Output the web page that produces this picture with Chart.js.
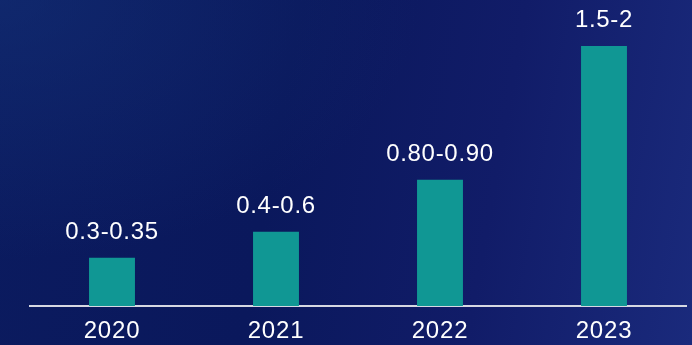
<!DOCTYPE html>
<html>
<head>
<meta charset="utf-8">
<script src="https://cdn.jsdelivr.net/npm/chart.js@4/dist/chart.umd.min.js"></script>
<style>
  html, body { margin: 0; padding: 0; }
  body {
    width: 692px; height: 345px; overflow: hidden;
    background:
      radial-gradient(ellipse 420px 260px at 0% 0%, rgba(20,50,120,0.55), rgba(20,50,120,0) 100%),
      linear-gradient(100deg, #0b1b5f 0%, #0a185c 40%, #111c68 70%, #1a2a7c 100%);
  }
  #wrap { position: relative; width: 692px; height: 345px; }
</style>
</head>
<body>
<div id="wrap"><canvas id="chart"></canvas></div>
<script>
// Years on the x axis
const years = ['2020', '2021', '2022', '2023'];
// Reported range for each year (shown above the bars)
const rangeLabels = ['0.3-0.35', '0.4-0.6', '0.80-0.90', '1.5-2'];
// Low and high ends of each range
const rangeLow = [0.3, 0.4, 0.80, 1.5];
const rangeHigh = [0.35, 0.6, 0.90, 2];
// Bar height = midpoint of the range
const midValues = rangeLow.map((lo, i) => (lo + rangeHigh[i]) / 2);

// Slightly open tracking for all text on the canvas
const trackingPlugin = {
  id: 'tracking',
  beforeDraw(chart) {
    chart.ctx.letterSpacing = '0.8px';
  }
};

// Writes the range text above every bar
const rangeLabelPlugin = {
  id: 'rangeLabels',
  afterDatasetsDraw(chart) {
    const { ctx } = chart;
    const meta = chart.getDatasetMeta(0);
    ctx.save();
    ctx.letterSpacing = '0.7px';
    ctx.fillStyle = '#ffffff';
    ctx.font = '24px "Liberation Sans", Arial, sans-serif';
    ctx.textAlign = 'center';
    ctx.textBaseline = 'alphabetic';
    meta.data.forEach((bar, i) => {
      ctx.fillText(rangeLabels[i], bar.x, bar.y - 19);
    });
    ctx.restore();
  }
};

new Chart(document.getElementById('chart'), {
  type: 'bar',
  data: {
    labels: years,
    datasets: [{
      data: midValues,
      backgroundColor: '#109794',
      borderWidth: 0,
      categoryPercentage: 1,
      barPercentage: 0.28
    }]
  },
  options: {
    responsive: true,
    maintainAspectRatio: false,
    animation: false,
    layout: { padding: { left: 30, right: 6, top: 0, bottom: 0 } },
    plugins: {
      legend: { display: false },
      tooltip: { enabled: false }
    },
    scales: {
      x: {
        grid: { display: false, drawTicks: false },
        border: { display: true, color: '#d6d8e2', width: 2 },
        ticks: {
          color: '#ffffff',
          padding: 11,
          font: { family: '"Liberation Sans", Arial, sans-serif', size: 24 }
        },
        afterFit(scale) { scale.height = 39; }
      },
      y: {
        display: false,
        min: 0,
        max: 2.06
      }
    }
  },
  plugins: [trackingPlugin, rangeLabelPlugin]
});
</script>
</body>
</html>
